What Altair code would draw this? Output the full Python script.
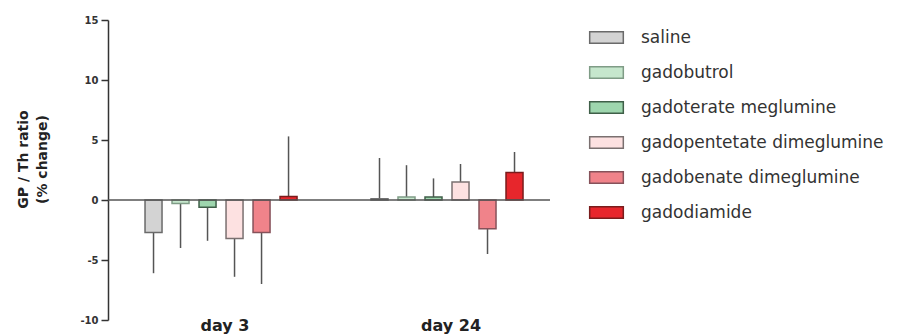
import altair as alt
import pandas as pd

treatments = ["saline", "gadobutrol", "gadoterate meglumine",
              "gadopentetate dimeglumine", "gadobenate dimeglumine", "gadodiamide"]
days = ["day 3", "day 24"]
day3_mean = [-2.7, -0.3, -0.6, -3.2, -2.7, 0.3]
day3_err = [3.4, 3.7, 2.8, 3.2, 4.3, 5.0]
day24_mean = [0.1, 0.25, 0.25, 1.5, -2.4, 2.3]
day24_err = [3.4, 2.65, 1.55, 1.5, 2.1, 1.7]

fill_colors = ["#d3d3d3", "#c6e7cd", "#9ed6ae", "#fde1e1", "#f0838a", "#e7262c"]
stroke_colors = ["#6a6a6a", "#7f9c86", "#3f5f48", "#7a7070", "#86525a", "#7a1c1c"]

rows = []
for d, means, errs in [(days[0], day3_mean, day3_err), (days[1], day24_mean, day24_err)]:
    for t, m, e in zip(treatments, means, errs):
        rows.append({"day": d, "treatment": t, "value": m,
                     "err_end": m + (e if m >= 0 else -e)})
df = pd.DataFrame(rows)

font = "DejaVu Sans"

x_enc = alt.X("day:N", sort=days, title=None,
              scale=alt.Scale(paddingInner=0.283, paddingOuter=0.1195, align=0.593),
              axis=alt.Axis(domain=False, ticks=False, labelAngle=0, labelAlign="center",
                            labelFont=font, labelFontWeight="bold", labelFontSize=16,
                            labelColor="#222", labelPadding=-3, labelBaseline="top",
                            labelOffset=4))
xoff = alt.XOffset("treatment:N", sort=treatments,
                   scale=alt.Scale(paddingInner=0.37, paddingOuter=0.185))
y_scale = alt.Scale(domain=[-10, 15], nice=False, zero=False)

legend_opts = dict(title=None, orient="none", legendX=486, legendY=5,
                   symbolType="M-1.45,-0.5H1.45V0.5H-1.45Z",
                   symbolSize=538, symbolStrokeWidth=1.5,
                   labelFont=font, labelFontSize=17, labelColor="#333",
                   labelOffset=22, rowPadding=13, padding=0, labelLimit=0)

bars = alt.Chart(df).mark_bar(strokeWidth=1.5).encode(
    x=x_enc,
    xOffset=xoff,
    y=alt.Y("value:Q", scale=y_scale,
            title=["GP / Th ratio", "(% change)"],
            axis=alt.Axis(values=[-10, -5, 0, 5, 10, 15], grid=False,
                          domainColor="#333", domainWidth=1.5,
                          tickColor="#333", tickWidth=1.5, tickSize=7,
                          labelFont=font, labelFontWeight="bold", labelFontSize=10,
                          labelColor="#333", labelPadding=3,
                          labelExpr="'' + datum.value",
                          titleFont=font, titleFontWeight="bold", titleFontSize=14,
                          titleColor="#222", titleLineHeight=19,
                          titleAngle=-90, titleAlign="center", titleBaseline="top",
                          titleX=-92, titleY=139)),
    y2=alt.datum(0),
    fill=alt.Fill("treatment:N", sort=treatments,
                  scale=alt.Scale(domain=treatments, range=fill_colors),
                  legend=alt.Legend(**legend_opts)),
    stroke=alt.Stroke("treatment:N", sort=treatments,
                      scale=alt.Scale(domain=treatments, range=stroke_colors),
                      legend=alt.Legend(**legend_opts)),
)

errs = alt.Chart(df).mark_rule(color="#555", strokeWidth=1.5).encode(
    x=alt.X("day:N", sort=days),
    xOffset=xoff,
    y=alt.Y("value:Q", scale=y_scale),
    y2="err_end:Q",
)

zero = alt.Chart(pd.DataFrame({"z": [0]})).mark_rule(color="#555", strokeWidth=1.5).encode(
    y=alt.Y("z:Q", scale=y_scale)
)

chart = alt.layer(errs, bars, zero).properties(
    width=442, height=300,
    background="white",
    autosize=alt.AutoSizeParams(type="none"),
    padding={"left": 100, "top": 12, "right": 340, "bottom": 14},
).configure_view(stroke=None)

chart.save("out.html", embed_options={"renderer": "svg", "actions": False})
